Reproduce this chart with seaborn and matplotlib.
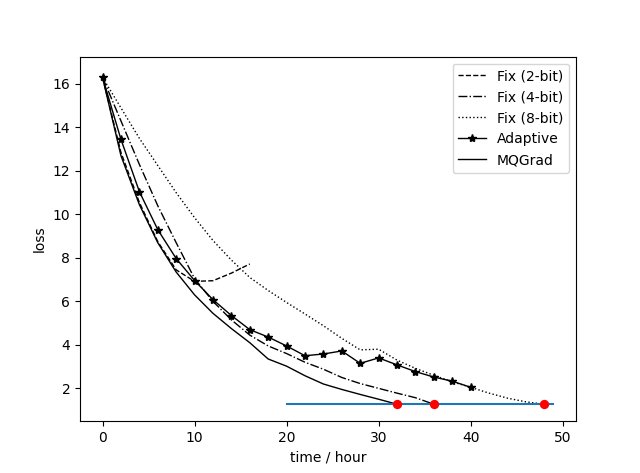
import matplotlib
matplotlib.use("Agg")
import matplotlib.pyplot as plt
import seaborn as sns

# --- data ---
hours_2bit = [0, 2, 4, 6, 8, 10, 12, 14, 16]
loss_2bit = [16.3, 12.85, 10.55, 8.75, 7.45, 6.92, 6.95, 7.3, 7.72]

hours_4bit = list(range(0, 37, 2))
loss_4bit = [16.3, 14.3, 12.3, 10.4, 8.7, 7.05, 6.0, 5.15, 4.45, 3.95,
             3.6, 3.2, 2.88, 2.5, 2.22, 2.0, 1.78, 1.57, 1.27]

hours_8bit = list(range(0, 49, 2))
loss_8bit = [16.3, 14.9, 13.5, 12.25, 11.0, 9.85, 8.8, 7.9, 7.1, 6.5,
             5.95, 5.42, 4.88, 4.3, 3.77, 3.8, 3.3, 2.92, 2.6, 2.3,
             2.05, 1.78, 1.55, 1.38, 1.27]

hours_adaptive = list(range(0, 41, 2))
loss_adaptive = [16.3, 13.45, 11.05, 9.3, 7.97, 6.96, 6.08, 5.35, 4.7, 4.36,
                 3.95, 3.5, 3.58, 3.72, 3.15, 3.4, 3.08, 2.77, 2.52, 2.33, 2.05]

hours_mqgrad = list(range(0, 33, 2))
loss_mqgrad = [16.3, 12.7, 10.45, 8.7, 7.35, 6.3, 5.45, 4.75, 4.1, 3.35,
               3.02, 2.58, 2.2, 1.95, 1.72, 1.5, 1.27]

target_x = [20, 49]
target_loss = 1.27
reach_hours = [32, 36, 48]

# --- plot ---
fig, ax = plt.subplots(figsize=(6.4, 4.73), dpi=100)

sns.lineplot(x=hours_2bit, y=loss_2bit, ax=ax, color="k", lw=1,
             linestyle="--", label="Fix (2-bit)")
sns.lineplot(x=hours_4bit, y=loss_4bit, ax=ax, color="k", lw=1,
             linestyle="-.", label="Fix (4-bit)")
sns.lineplot(x=hours_8bit, y=loss_8bit, ax=ax, color="k", lw=1,
             linestyle=":", label="Fix (8-bit)")
sns.lineplot(x=hours_adaptive, y=loss_adaptive, ax=ax, color="k", lw=1,
             marker="*", markersize=6, markeredgecolor="k", mew=1,
             label="Adaptive")
sns.lineplot(x=hours_mqgrad, y=loss_mqgrad, ax=ax, color="k", lw=1,
             label="MQGrad")

sns.lineplot(x=target_x, y=[target_loss] * len(target_x), ax=ax,
             color="C0", lw=1.5)
sns.scatterplot(x=reach_hours, y=[target_loss] * len(reach_hours), ax=ax,
                color="red", s=45, linewidth=0, zorder=3)

ax.set_ylim(0.5, 17.25)
ax.set_xlabel("time / hour")
ax.set_ylabel("loss")
ax.legend(loc="upper right")

plt.savefig("out.png")
plt.close()
